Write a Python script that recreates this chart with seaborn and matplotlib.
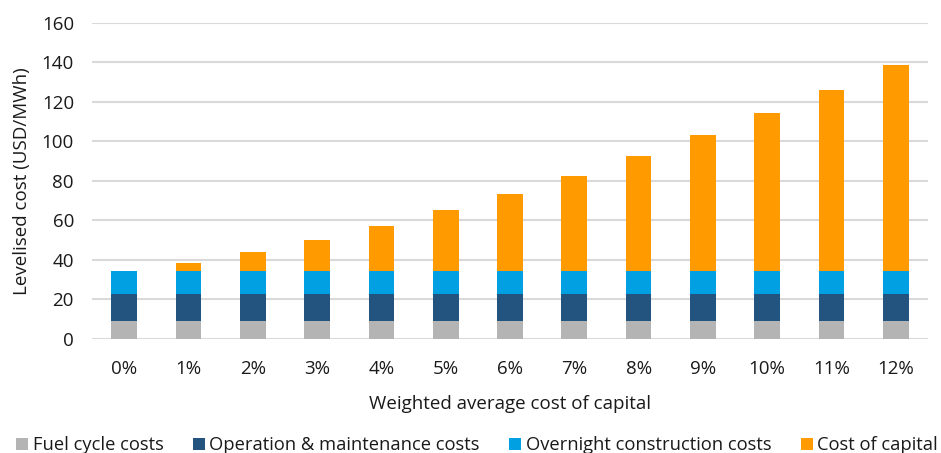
import matplotlib
matplotlib.use("Agg")
import matplotlib.pyplot as plt
import seaborn as sns
import pandas as pd
import numpy as np
from matplotlib.patches import Patch

wacc = ["0%", "1%", "2%", "3%", "4%", "5%", "6%", "7%", "8%", "9%", "10%", "11%", "12%"]
fuel = [9.3] * 13
om = [13.3] * 13
overnight = [11.6] * 13
capital = [0.0, 4.4, 9.8, 15.7, 23.0, 30.9, 39.1, 48.2, 58.4, 68.8, 80.1, 91.7, 104.2]

series_names = ["Fuel cycle costs", "Operation & maintenance costs",
                "Overnight construction costs", "Cost of capital"]
colors = ["#b4b4b4", "#235480", "#00a0e3", "#ff9a00"]

sns.set_theme(style="white")
plt.rcParams["font.family"] = ["Open Sans", "DejaVu Sans"]

df = pd.DataFrame({"wacc": wacc, "fuel": fuel, "om": om,
                   "overnight": overnight, "capital": capital})
c1 = df["fuel"]
c2 = c1 + df["om"]
c3 = c2 + df["overnight"]
c4 = c3 + df["capital"]

fig = plt.figure(figsize=(9.41, 4.53), dpi=100)
ax = fig.add_axes([92 / 941, 1 - 339 / 453, (928 - 92) / 941, (339 - 22.5) / 453])

for cum, col in zip([c4, c3, c2, c1], colors[::-1]):
    sns.barplot(x=df["wacc"], y=cum, color=col, width=0.4, ax=ax,
                saturation=1, edgecolor="none", zorder=3)

fs = 13.5
ax.set_ylim(0, 160)
ax.set_xlim(-0.5, 12.5)
ax.set_yticks(range(0, 161, 20))
ax.yaxis.grid(True, color="#d9d9d9", linewidth=1.5, zorder=0)
ax.xaxis.grid(False)
for s in ax.spines.values():
    s.set_visible(False)
ax.tick_params(axis="both", length=0, labelsize=fs, colors="#1a1a1a")
ax.tick_params(axis="y", pad=13)
ax.tick_params(axis="x", pad=15)
ax.set_xlabel("Weighted average cost of capital", fontsize=fs, color="#1a1a1a", labelpad=12)
ax.set_ylabel("Levelised cost (USD/MWh)", fontsize=fs, color="#1a1a1a", labelpad=8)

handles = [Patch(facecolor=c, edgecolor="none") for c in colors]
fig.legend(handles, series_names, loc="lower center", ncol=4, frameon=False,
           fontsize=13.2, bbox_to_anchor=(0.507, -0.035), handlelength=0.65,
           handleheight=0.65, handletextpad=0.25, columnspacing=1.6,
           labelcolor="#1a1a1a", borderpad=0.3)

fig.savefig("out.png", dpi=100)
